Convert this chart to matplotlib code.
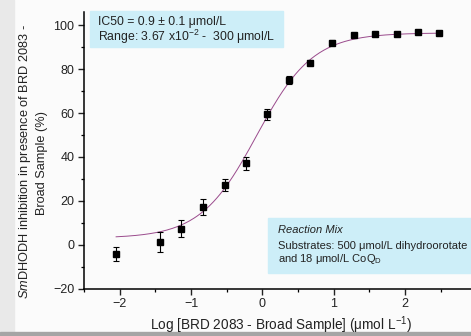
import numpy as np
import matplotlib
matplotlib.use("Agg")
import matplotlib.pyplot as plt
from matplotlib.patches import Rectangle

# ---- data ----
log_conc = [-2.05, -1.44, -1.14, -0.83, -0.53, -0.23, 0.07, 0.37,
            0.67, 0.97, 1.28, 1.58, 1.88, 2.18, 2.48]
inhibition = [-4.2, 1.2, 7.3, 17.3, 27.3, 37.1, 59.4, 75.0,
              83.0, 92.1, 95.6, 96.0, 95.9, 96.7, 96.4]
errors = [3.2, 4.6, 3.8, 3.6, 2.6, 3.0, 2.5, 2.0,
          1.0, 1.0, 0.8, 0.8, 0.8, 0.8, 0.8]

# dose-response fit (bottom, top, logIC50, hill slope)
fit_bottom = 3.0
fit_top = 96.5
fit_logic50 = -0.08
fit_hill = 1.1

plt.rcParams['font.family'] = ['Liberation Sans', 'DejaVu Sans']
plt.rcParams['mathtext.fontset'] = 'custom'
plt.rcParams['mathtext.rm'] = 'Liberation Sans'
plt.rcParams['mathtext.it'] = 'Liberation Sans:italic'

W, H = 471, 336
fig = plt.figure(figsize=(W / 100, H / 100), dpi=100, facecolor='#fbfbfb')

# screenshot frame bits
fig.patches.append(Rectangle((0, 0), 14 / W, 1, transform=fig.transFigure,
                             color='#e9e9e9', zorder=-5))
fig.patches.append(Rectangle((0, 0), 1, 4 / H, transform=fig.transFigure,
                             color='#a5a5a5', zorder=-5))

ax = fig.add_axes([84 / W, (H - 288.7) / H, (W - 84) / W, (288.7 - 12) / H])
ax.set_facecolor('none')

xs = np.linspace(log_conc[0], log_conc[-1], 300)
curve = fit_bottom + (fit_top - fit_bottom) / (1 + 10 ** ((fit_logic50 - xs) * fit_hill))
ax.plot(xs, curve, color='#9a4a8c', lw=0.7, zorder=2)

ax.errorbar(log_conc, inhibition, yerr=errors, fmt='s', color='black',
            ms=5, capsize=2.5, elinewidth=0.8, capthick=0.8, zorder=3)

ax.set_xlim(-2.5, 2.924)
ax.set_ylim(-20, 106)
ax.set_xticks([-2, -1, 0, 1, 2])
ax.set_xticks([-2.5, -1.5, -0.5, 0.5, 1.5, 2.5], minor=True)
ax.set_yticks([-20, 0, 20, 40, 60, 80, 100])
ax.set_yticks([-10, 10, 30, 50, 70, 90], minor=True)
for s in ['top', 'right']:
    ax.spines[s].set_visible(False)
for s in ['left', 'bottom']:
    ax.spines[s].set_linewidth(1.1)
ax.tick_params(which='major', direction='out', length=4, width=1, labelsize=9,
               colors='#222222', pad=3)
ax.tick_params(which='minor', direction='out', length=2.5, width=0.9)

fig.text(281 / W, 1 - 325 / H, 'Log [BRD 2083 - Broad Sample] (μmol L$^{-1}$)',
         ha='center', va='center', fontsize=9.8, color='#222222')
fig.text(25 / W, 1 - 161 / H, '$\\it{Sm}$DHODH inhibition in presence of BRD 2083 -',
         ha='center', va='center', rotation=90, fontsize=9.2, color='#222222')
fig.text(42 / W, 1 - 163 / H, 'Broad Sample (%)',
         ha='center', va='center', rotation=90, fontsize=9.2, color='#222222')

# info boxes
box_col = '#cdeef8'
fig.patches.append(Rectangle((90 / W, 1 - 47 / H), (283 - 90) / W, 36 / H,
                             transform=fig.transFigure, color=box_col, zorder=1))
fig.text(98 / W, 1 - 22 / H, 'IC50 = 0.9 ± 0.1 μmol/L',
         va='center', fontsize=8.8, color='#222222')
fig.text(98 / W, 1 - 37 / H, 'Range: 3.67 x10$^{-2}$ -  300 μmol/L',
         va='center', fontsize=8.8, color='#222222')

fig.patches.append(Rectangle((268 / W, 1 - 273 / H), (W - 268) / W, 55 / H,
                             transform=fig.transFigure, color=box_col, zorder=1))
fig.text(278 / W, 1 - 230 / H, 'Reaction Mix', style='italic',
         va='center', fontsize=8.0, color='#222222')
fig.text(278 / W, 1 - 246 / H, 'Substrates: 500 μmol/L dihydroorotate',
         va='center', fontsize=8.0, color='#222222')
fig.text(278 / W, 1 - 259 / H, 'and 18 μmol/L CoQ$_\\mathrm{D}$',
         va='center', fontsize=8.0, color='#222222')

fig.savefig('out.png', dpi=100, facecolor=fig.get_facecolor())
